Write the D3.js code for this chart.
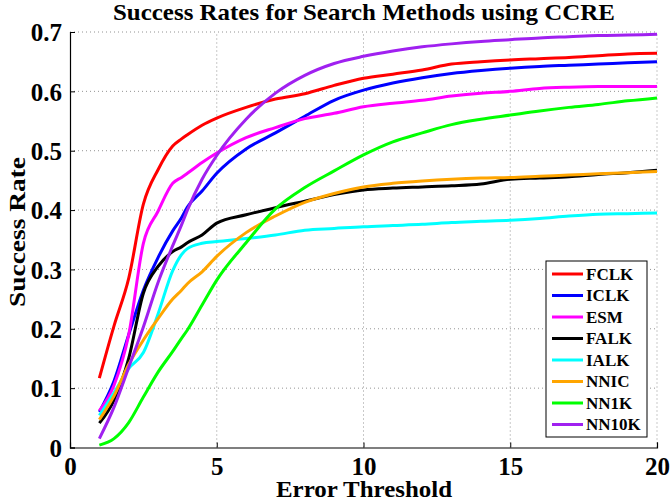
<!DOCTYPE html>
<html>
<head>
<meta charset="utf-8">
<script src="https://cdn.jsdelivr.net/npm/d3@7"></script>
<style>
  body { margin: 0; background: #fff; }
  text { font-family: "Liberation Serif", "Times New Roman", serif; font-weight: bold; fill: #000; }
</style>
</head>
<body>
<svg id="chart"></svg>
<script>
var width = 671;
var height = 502;

// error thresholds (x) shared by all methods
var thresholds = [1, 1.5, 2, 2.5, 3, 3.5, 3.8, 4, 4.5, 5, 6, 7, 8, 9, 10, 11, 12, 13, 14, 15, 16, 17, 18, 19, 20];

var fclk  = [0.117, 0.205, 0.285, 0.410, 0.468, 0.508, 0.520, 0.527, 0.543, 0.555, 0.573, 0.587, 0.596, 0.610, 0.622, 0.629, 0.636, 0.646, 0.650, 0.653, 0.655, 0.657, 0.660, 0.663, 0.664];
var iclk  = [0.060, 0.112, 0.190, 0.265, 0.320, 0.365, 0.387, 0.405, 0.432, 0.462, 0.503, 0.530, 0.558, 0.585, 0.602, 0.614, 0.623, 0.630, 0.635, 0.639, 0.642, 0.644, 0.646, 0.648, 0.650];
var esm   = [0.062, 0.105, 0.190, 0.344, 0.398, 0.445, 0.455, 0.462, 0.480, 0.496, 0.522, 0.539, 0.554, 0.563, 0.574, 0.580, 0.585, 0.592, 0.597, 0.600, 0.605, 0.607, 0.608, 0.608, 0.608];
var falk  = [0.041, 0.080, 0.150, 0.260, 0.305, 0.330, 0.338, 0.345, 0.358, 0.378, 0.392, 0.404, 0.415, 0.426, 0.434, 0.437, 0.439, 0.441, 0.444, 0.452, 0.454, 0.456, 0.460, 0.463, 0.467];
var ialk  = [0.054, 0.092, 0.133, 0.160, 0.225, 0.298, 0.325, 0.335, 0.344, 0.347, 0.352, 0.358, 0.366, 0.369, 0.372, 0.374, 0.376, 0.379, 0.381, 0.383, 0.386, 0.390, 0.393, 0.394, 0.395];
var nnic  = [0.047, 0.087, 0.140, 0.181, 0.217, 0.250, 0.265, 0.276, 0.296, 0.322, 0.362, 0.390, 0.413, 0.428, 0.439, 0.445, 0.449, 0.452, 0.454, 0.455, 0.457, 0.459, 0.461, 0.463, 0.465];
var nn1k  = [0.004, 0.015, 0.042, 0.085, 0.127, 0.162, 0.184, 0.198, 0.240, 0.282, 0.345, 0.402, 0.438, 0.466, 0.493, 0.515, 0.530, 0.544, 0.553, 0.560, 0.567, 0.573, 0.578, 0.584, 0.589];
var nn10k = [0.015, 0.068, 0.135, 0.203, 0.278, 0.340, 0.375, 0.400, 0.452, 0.492, 0.553, 0.597, 0.627, 0.647, 0.659, 0.668, 0.675, 0.680, 0.684, 0.687, 0.690, 0.692, 0.694, 0.695, 0.696];

var names  = ['FCLK', 'ICLK', 'ESM', 'FALK', 'IALK', 'NNIC', 'NN1K', 'NN10K'];
var colors = ['#ff0000', '#0000ff', '#ff00ff', '#000000', '#00ffff', '#ffa500', '#00ff00', '#a020f0'];
var values = [fclk, iclk, esm, falk, ialk, nnic, nn1k, nn10k];

var xTicks = [0, 5, 10, 15, 20];
var yTicks = [0, 0.1, 0.2, 0.3, 0.4, 0.5, 0.6, 0.7];

var series = names.map(function(n, i) {
  return {
    name: n,
    color: colors[i],
    points: thresholds.map(function(t, j) { return [t, values[i][j]]; })
  };
});

var svg = d3.select('#chart')
  .attr('width', width)
  .attr('height', height);

var x = d3.scaleLinear().domain([0, 20]).range([70, 657]);
var y = d3.scaleLinear().domain([0, 0.7]).range([447.5, 32]);

// dotted grid
var grid = svg.append('g');
grid.selectAll('.gx').data(xTicks.slice(1)).enter().append('line')
  .attr('x1', function(d) { return x(d); }).attr('x2', function(d) { return x(d); })
  .attr('y1', y(0)).attr('y2', y(0.7))
  .attr('stroke', '#777').attr('stroke-width', 0.8).attr('stroke-dasharray', '1,3');
grid.selectAll('.gy').data(yTicks.slice(1)).enter().append('line')
  .attr('x1', x(0)).attr('x2', x(20))
  .attr('y1', function(d) { return y(d); }).attr('y2', function(d) { return y(d); })
  .attr('stroke', '#777').attr('stroke-width', 0.8).attr('stroke-dasharray', '1,3');

// axes
var xAxis = d3.axisBottom(x).tickValues(xTicks).tickSize(-5).tickPadding(7).tickFormat(d3.format('d'));
var yAxis = d3.axisLeft(y).tickValues(yTicks).tickSize(-5).tickPadding(8)
  .tickFormat(function(d) { return d === 0 ? '0' : d3.format('.1f')(d); });

var gx = svg.append('g').attr('transform', 'translate(0,' + y(0) + ')').call(xAxis);
var gy = svg.append('g').attr('transform', 'translate(' + x(0) + ',0)').call(yAxis);
[gx, gy].forEach(function(g) {
  g.attr('font-family', null).attr('font-size', null);
  g.select('.domain').attr('stroke', '#000').attr('stroke-width', 1.2);
  g.selectAll('.tick line').attr('stroke', '#000');
  g.selectAll('.tick text').style('font-size', '25px');
});
gx.selectAll('.tick text').attr('dy', '0.8em');
gy.selectAll('.tick text').attr('dy', '0.35em');

// lines
var line = d3.line()
  .x(function(d) { return x(d[0]); })
  .y(function(d) { return y(d[1]); })
  .curve(d3.curveMonotoneX);

svg.append('g').selectAll('path').data(series).enter().append('path')
  .attr('d', function(d) { return line(d.points); })
  .attr('fill', 'none')
  .attr('stroke', function(d) { return d.color; })
  .attr('stroke-width', 3)
  .attr('stroke-linejoin', 'round');

// titles
svg.append('text')
  .attr('x', 364).attr('y', 20)
  .attr('text-anchor', 'middle')
  .attr('textLength', 502).attr('lengthAdjust', 'spacingAndGlyphs')
  .style('font-size', '23px')
  .text('Success Rates for Search Methods using CCRE');

svg.append('text')
  .attr('x', 364).attr('y', 497)
  .attr('text-anchor', 'middle')
  .attr('textLength', 176).attr('lengthAdjust', 'spacingAndGlyphs')
  .style('font-size', '23px')
  .text('Error Threshold');

svg.append('text')
  .attr('transform', 'translate(25,232) rotate(-90)')
  .attr('text-anchor', 'middle')
  .attr('textLength', 150).attr('lengthAdjust', 'spacingAndGlyphs')
  .style('font-size', '23px')
  .text('Success Rate');

// legend
var legend = svg.append('g').attr('transform', 'translate(546,261)');
legend.append('rect')
  .attr('width', 101).attr('height', 176)
  .attr('fill', '#fff').attr('stroke', '#000').attr('stroke-width', 1);

var item = legend.selectAll('.item').data(series).enter().append('g')
  .attr('transform', function(d, i) { return 'translate(0,' + (13 + i * 21.5) + ')'; });
item.append('line')
  .attr('x1', 6).attr('x2', 37)
  .attr('stroke', function(d) { return d.color; })
  .attr('stroke-width', 3);
item.append('text')
  .attr('x', 40).attr('dy', '0.35em')
  .style('font-size', '17px')
  .text(function(d) { return d.name; });
</script>
</body>
</html>
